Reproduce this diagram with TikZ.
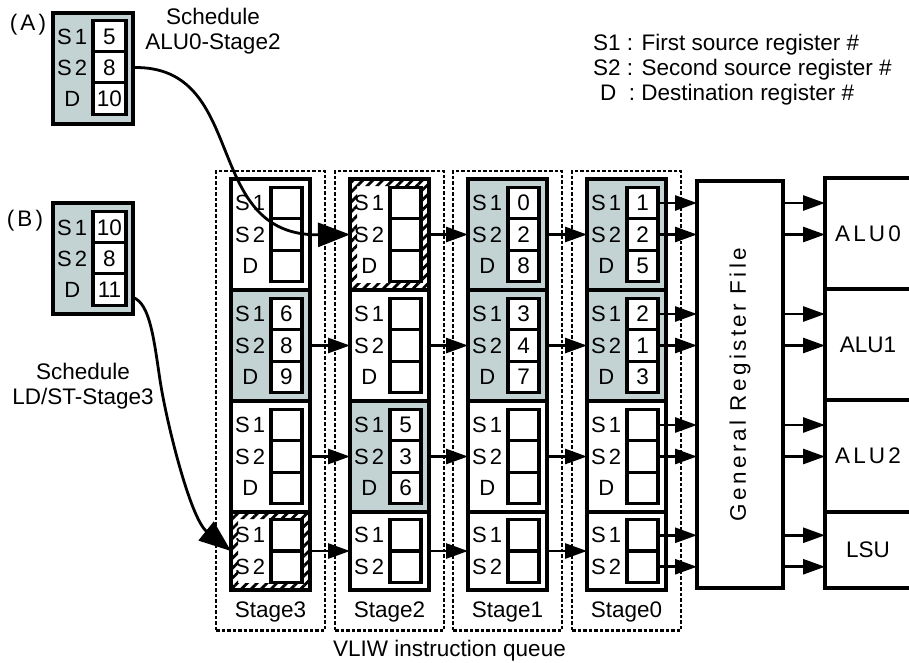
\documentclass[tikz,border=0pt]{standalone}
\usepackage{fontspec}
\setmainfont{Liberation Sans}
\newfontfamily\spaced[LetterSpace=14]{Liberation Sans}
\newfontfamily\widespaced[LetterSpace=15]{Liberation Sans}
\usepackage{graphicx}
\usetikzlibrary{arrows.meta,fit,patterns.meta}
\definecolor{queuegray}{RGB}{195,211,211}
\newcommand\txt{\fontsize{22.5}{25}\selectfont}

\begin{document}
\begin{tikzpicture}[x=1pt,y=1pt,font=\txt,label distance=4pt,
  entry/.style={rectangle,draw=black,fill=white,line width=3.2pt,minimum width=79pt,minimum height=111pt,inner sep=0pt,outer sep=0pt},
  cell/.style={rectangle,draw=black,fill=white,line width=3.2pt,minimum width=31pt,minimum height=31.5pt,inner sep=0pt},
  tag/.style={font=\spaced\fontsize{22}{24}\selectfont,text width=30pt,align=center,inner sep=0pt},
  unit/.style={rectangle,draw=black,fill=white,line width=3.2pt,minimum width=86pt,inner sep=0pt,outer sep=0pt},
  hatch/.style={pattern={Lines[angle=45,distance=7pt,line width=2.8pt]},even odd rule},
  stagelabel/.style={inner sep=0pt},
  stageframe/.style={draw=black,line width=2.6pt,dash pattern=on 3.5pt off 2pt,inner xsep=15pt,inner ysep=8pt},
  keytext/.style={anchor=west,inner sep=0pt},
  flow/.style={-{Triangle[length=22pt,width=15pt]},line width=2.7pt},
  sched/.style={-{Triangle[length=32pt,width=24pt]},line width=2.8pt}]
\useasboundingbox (0,0) rectangle (909,-662);

\node[keytext] (keys1) at (593,-45) {S1 : First source register \#};
\node[keytext] (keys2) at (593,-70) {S2 : Second source register \#};
\node[keytext] (keyd) at (600,-95) {D \ : Destination register \#};

\node (tagA) at (28,-25) {\spaced (A)};
\node[entry,fill=queuegray,minimum width=80pt] (instA) at (93,-68.5) {};
\node[cell,minimum width=33pt,label={[tag]left:S1}] (instAs1) at (109.5,-36.5) {5};
\node[cell,minimum width=33pt,label={[tag]left:S2}] (instAs2) at (109.5,-67.5) {8};
\node[cell,minimum width=33pt,label={[tag]left:D}] (instAd) at (109.5,-98.5) {10};
\node[align=center] (noteA) at (213,-31) {Schedule\\ALU0-Stage2};

\node (tagB) at (25,-221) {\spaced (B)};
\node[entry,fill=queuegray,minimum width=80pt] (instB) at (93,-258.5) {};
\node[cell,minimum width=33pt,label={[tag]left:S1}] (instBs1) at (109.5,-227.5) {10};
\node[cell,minimum width=33pt,label={[tag]left:S2}] (instBs2) at (109.5,-258.5) {8};
\node[cell,minimum width=33pt,label={[tag]left:D}] (instBd) at (109.5,-289.5) {11};
\node[align=center] (noteB) at (83,-386) {Schedule\\LD/ST-Stage3};

\node[entry] (st3row1) at (270.5,-234.5) {};
\node[entry,fill=queuegray] (st3row2) at (270.5,-345.5) {};
\node[entry] (st3row3) at (270.5,-456.5) {};
\node[entry,minimum height=78pt] (st3row4) at (270.5,-551) {};
\node[entry] (st2row1) at (389.5,-234.5) {};
\node[entry] (st2row2) at (389.5,-345.5) {};
\node[entry,fill=queuegray] (st2row3) at (389.5,-456.5) {};
\node[entry,minimum height=78pt] (st2row4) at (389.5,-551) {};
\node[entry,fill=queuegray] (st1row1) at (507.5,-234.5) {};
\node[entry,fill=queuegray] (st1row2) at (507.5,-345.5) {};
\node[entry] (st1row3) at (507.5,-456.5) {};
\node[entry,minimum height=78pt] (st1row4) at (507.5,-551) {};
\node[entry,fill=queuegray] (st0row1) at (626.5,-234.5) {};
\node[entry,fill=queuegray] (st0row2) at (626.5,-345.5) {};
\node[entry] (st0row3) at (626.5,-456.5) {};
\node[entry,minimum height=78pt] (st0row4) at (626.5,-551) {};

\fill[hatch] (st2row1.south west) rectangle (st2row1.north east) ([shift={(7pt,7pt)}]st2row1.south west) rectangle ([shift={(-7pt,-7pt)}]st2row1.north east);
\fill[hatch] (st3row4.south west) rectangle (st3row4.north east) ([shift={(7pt,7pt)}]st3row4.south west) rectangle ([shift={(-7pt,-7pt)}]st3row4.north east);

\node[cell,label={[tag]left:S1}] (st3row1s1) at (286.5,-203) {};
\node[cell,label={[tag]left:S2}] (st3row1s2) at (286.5,-234.5) {};
\node[cell,label={[tag]left:D}] (st3row1d) at (286.5,-266) {};
\node[cell,label={[tag]left:S1}] (st3row2s1) at (286.5,-314) {6};
\node[cell,label={[tag]left:S2}] (st3row2s2) at (286.5,-345.5) {8};
\node[cell,label={[tag]left:D}] (st3row2d) at (286.5,-377) {9};
\node[cell,label={[tag]left:S1}] (st3row3s1) at (286.5,-425) {};
\node[cell,label={[tag]left:S2}] (st3row3s2) at (286.5,-456.5) {};
\node[cell,label={[tag]left:D}] (st3row3d) at (286.5,-488) {};
\node[cell,label={[tag]left:S1}] (st3row4s1) at (286.5,-535.25) {};
\node[cell,label={[tag]left:S2}] (st3row4s2) at (286.5,-566.75) {};

\node[cell,label={[tag]left:S1}] (st2row1s1) at (405.5,-203) {};
\node[cell,label={[tag]left:S2}] (st2row1s2) at (405.5,-234.5) {};
\node[cell,label={[tag]left:D}] (st2row1d) at (405.5,-266) {};
\node[cell,label={[tag]left:S1}] (st2row2s1) at (405.5,-314) {};
\node[cell,label={[tag]left:S2}] (st2row2s2) at (405.5,-345.5) {};
\node[cell,label={[tag]left:D}] (st2row2d) at (405.5,-377) {};
\node[cell,label={[tag]left:S1}] (st2row3s1) at (405.5,-425) {5};
\node[cell,label={[tag]left:S2}] (st2row3s2) at (405.5,-456.5) {3};
\node[cell,label={[tag]left:D}] (st2row3d) at (405.5,-488) {6};
\node[cell,label={[tag]left:S1}] (st2row4s1) at (405.5,-535.25) {};
\node[cell,label={[tag]left:S2}] (st2row4s2) at (405.5,-566.75) {};

\node[cell,label={[tag]left:S1}] (st1row1s1) at (523.5,-203) {0};
\node[cell,label={[tag]left:S2}] (st1row1s2) at (523.5,-234.5) {2};
\node[cell,label={[tag]left:D}] (st1row1d) at (523.5,-266) {8};
\node[cell,label={[tag]left:S1}] (st1row2s1) at (523.5,-314) {3};
\node[cell,label={[tag]left:S2}] (st1row2s2) at (523.5,-345.5) {4};
\node[cell,label={[tag]left:D}] (st1row2d) at (523.5,-377) {7};
\node[cell,label={[tag]left:S1}] (st1row3s1) at (523.5,-425) {};
\node[cell,label={[tag]left:S2}] (st1row3s2) at (523.5,-456.5) {};
\node[cell,label={[tag]left:D}] (st1row3d) at (523.5,-488) {};
\node[cell,label={[tag]left:S1}] (st1row4s1) at (523.5,-535.25) {};
\node[cell,label={[tag]left:S2}] (st1row4s2) at (523.5,-566.75) {};

\node[cell,label={[tag]left:S1}] (st0row1s1) at (642.5,-203) {1};
\node[cell,label={[tag]left:S2}] (st0row1s2) at (642.5,-234.5) {2};
\node[cell,label={[tag]left:D}] (st0row1d) at (642.5,-266) {5};
\node[cell,label={[tag]left:S1}] (st0row2s1) at (642.5,-314) {2};
\node[cell,label={[tag]left:S2}] (st0row2s2) at (642.5,-345.5) {1};
\node[cell,label={[tag]left:D}] (st0row2d) at (642.5,-377) {3};
\node[cell,label={[tag]left:S1}] (st0row3s1) at (642.5,-425) {};
\node[cell,label={[tag]left:S2}] (st0row3s2) at (642.5,-456.5) {};
\node[cell,label={[tag]left:D}] (st0row3d) at (642.5,-488) {};
\node[cell,label={[tag]left:S1}] (st0row4s1) at (642.5,-535.25) {};
\node[cell,label={[tag]left:S2}] (st0row4s2) at (642.5,-566.75) {};

\node[stagelabel] (lab3) at (270.5,-612) {Stage3};
\node[stagelabel] (lab2) at (389.5,-612) {Stage2};
\node[stagelabel] (lab1) at (507.5,-612) {Stage1};
\node[stagelabel] (lab0) at (626.5,-612) {Stage0};
\node[stageframe,fit=(st3row1)(st3row4)(lab3)] (frame3) {};
\node[stageframe,fit=(st2row1)(st2row4)(lab2)] (frame2) {};
\node[stageframe,fit=(st1row1)(st1row4)(lab1)] (frame1) {};
\node[stageframe,fit=(st0row1)(st0row4)(lab0)] (frame0) {};
\node (queuelabel) at (449.5,-651) {VLIW instruction queue};

\node[unit,minimum height=407pt] (regfile) at (740,-384.5) {\rotatebox{90}{\widespaced General Register File}};
\node[unit,minimum height=111pt] (alu0) at (868,-233.5) {\spaced ALU0};
\node[unit,minimum height=111pt] (alu1) at (868,-344.5) {ALU1};
\node[unit,minimum height=112pt] (alu2) at (868,-456) {\spaced ALU2};
\node[unit,minimum height=76pt] (lsu) at (868,-550) {LSU};

\draw[flow] (st2row1.east |- st2row1s2) -- (st1row1.west |- st2row1s2);
\draw[flow] (st1row1.east |- st1row1s2) -- (st0row1.west |- st1row1s2);
\draw[flow] (st3row2.east |- st3row2s2) -- (st2row2.west |- st3row2s2);
\draw[flow] (st2row2.east |- st2row2s2) -- (st1row2.west |- st2row2s2);
\draw[flow] (st1row2.east |- st1row2s2) -- (st0row2.west |- st1row2s2);
\draw[flow] (st3row3.east |- st3row3s2) -- (st2row3.west |- st3row3s2);
\draw[flow] (st2row3.east |- st2row3s2) -- (st1row3.west |- st2row3s2);
\draw[flow] (st1row3.east |- st1row3s2) -- (st0row3.west |- st1row3s2);
\draw[flow] (st3row4.east) -- (st2row4.west);
\draw[flow] (st2row4.east) -- (st1row4.west);
\draw[flow] (st1row4.east) -- (st0row4.west);

\draw[flow] (st0row1s1.east) -- (regfile.west |- st0row1s1);
\draw[flow] (st0row1s2.east) -- (regfile.west |- st0row1s2);
\draw[flow] (st0row2s1.east) -- (regfile.west |- st0row2s1);
\draw[flow] (st0row2s2.east) -- (regfile.west |- st0row2s2);
\draw[flow] (st0row3s1.east) -- (regfile.west |- st0row3s1);
\draw[flow] (st0row3s2.east) -- (regfile.west |- st0row3s2);
\draw[flow] (st0row4s1.east) -- (regfile.west |- st0row4s1);
\draw[flow] (st0row4s2.east) -- (regfile.west |- st0row4s2);

\draw[flow] (regfile.east |- st0row1s1) -- (alu0.west |- st0row1s1);
\draw[flow] (regfile.east |- st0row1s2) -- (alu0.west |- st0row1s2);
\draw[flow] (regfile.east |- st0row2s1) -- (alu1.west |- st0row2s1);
\draw[flow] (regfile.east |- st0row2s2) -- (alu1.west |- st0row2s2);
\draw[flow] (regfile.east |- st0row3s1) -- (alu2.west |- st0row3s1);
\draw[flow] (regfile.east |- st0row3s2) -- (alu2.west |- st0row3s2);
\draw[flow] (regfile.east |- st0row4s1) -- (lsu.west |- st0row4s1);
\draw[flow] (regfile.east |- st0row4s2) -- (lsu.west |- st0row4s2);

\draw[sched] (instA.east |- instAs2) .. controls (250,-65) and (200,-236) .. (st2row1.west |- st2row1s2);
\draw[sched] ([yshift=-8pt]instB.east |- instBd) .. controls (150,-303) and (154,-340) .. (160,-380) .. controls (166,-420) and (190,-518) .. (st3row4.west);
\end{tikzpicture}
\end{document}
